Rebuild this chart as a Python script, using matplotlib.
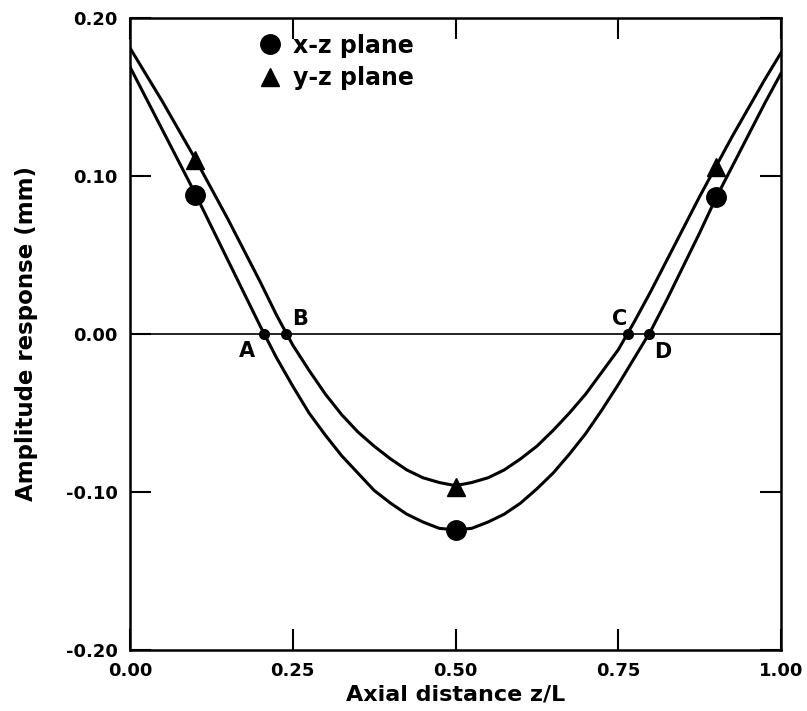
import matplotlib
matplotlib.use("Agg")
import matplotlib.pyplot as plt

plt.rcParams['font.family'] = 'DejaVu Sans'
plt.rcParams['font.weight'] = 'bold'

# Fitted mode shapes along the shaft (z/L, amplitude in mm)
z_fit = [0.000, 0.025, 0.050, 0.075, 0.100, 0.125, 0.150, 0.175, 0.200, 0.225,
         0.250, 0.275, 0.300, 0.325, 0.350, 0.375, 0.400, 0.425, 0.450, 0.475,
         0.500, 0.525, 0.550, 0.575, 0.600, 0.625, 0.650, 0.675, 0.700, 0.725,
         0.750, 0.775, 0.800, 0.825, 0.850, 0.875, 0.900, 0.925, 0.950, 0.975,
         1.000]
xz_fit = [0.169, 0.149, 0.129, 0.109, 0.089, 0.068, 0.047, 0.026, 0.005, -0.015,
          -0.033, -0.050, -0.064, -0.077, -0.088, -0.099, -0.107, -0.114, -0.119, -0.123,
          -0.124, -0.123, -0.119, -0.114, -0.107, -0.098, -0.088, -0.076, -0.063, -0.048,
          -0.032, -0.015, 0.002, 0.022, 0.043, 0.064, 0.086, 0.106, 0.126, 0.146,
          0.165]
yz_fit = [0.181, 0.164, 0.147, 0.129, 0.111, 0.092, 0.073, 0.053, 0.033, 0.012,
          -0.007, -0.023, -0.038, -0.051, -0.062, -0.071, -0.079, -0.086, -0.091, -0.094,
          -0.096, -0.094, -0.091, -0.086, -0.079, -0.071, -0.061, -0.050, -0.038, -0.024,
          -0.010, 0.008, 0.027, 0.047, 0.067, 0.087, 0.106, 0.125, 0.143, 0.161,
          0.178]

# Measured amplitudes
z_meas = [0.10, 0.50, 0.90]
xz_meas = [0.088, -0.124, 0.087]
yz_meas = [0.110, -0.097, 0.106]

# Nodal points
node_z = [0.206, 0.240, 0.765, 0.797]
node_labels = ['A', 'B', 'C', 'D']
node_offsets = [(-12, -12), (10, 11), (-6, 11), (10, -13)]

x_ticks = [0.00, 0.25, 0.50, 0.75, 1.00]
y_ticks = [-0.20, -0.10, 0.00, 0.10, 0.20]

fig = plt.figure(figsize=(8.07, 7.11), dpi=100)
ax = fig.add_axes([0.1611, 0.0858, 0.8067, 0.8889])

ax.axhline(0, color='black', lw=1.2, zorder=1)
ax.plot(z_fit, xz_fit, color='black', lw=2.2, zorder=2)
ax.plot(z_fit, yz_fit, color='black', lw=2.2, zorder=2)
ax.plot(z_meas, xz_meas, 'o', color='black', ms=14, ls='none', label='x-z plane', zorder=3)
ax.plot(z_meas, yz_meas, '^', color='black', ms=13, ls='none', label='y-z plane', zorder=3)

ax.plot(node_z, [0] * len(node_z), 'o', color='black', ms=7, zorder=4)
for zn, lab, off in zip(node_z, node_labels, node_offsets):
    ax.annotate(lab, (zn, 0), xytext=off, textcoords='offset points',
                ha='center', va='center', fontsize=15, fontweight='bold')

ax.set_xlim(0, 1)
ax.set_ylim(-0.2, 0.2)
ax.set_xticks(x_ticks)
ax.set_yticks(y_ticks)
ax.set_xticklabels(['%.2f' % v for v in x_ticks])
ax.set_yticklabels(['%.2f' % v for v in y_ticks])
ax.tick_params(direction='in', length=15, width=1.5, labelsize=13, pad=9,
               top=True, right=True)
for s in ax.spines.values():
    s.set_linewidth(1.8)

ax.set_xlabel('Axial distance z/L', fontsize=16, fontweight='bold', labelpad=3)
ax.set_ylabel('Amplitude response (mm)', fontsize=16.5, fontweight='bold', labelpad=20)

ax.legend(loc='upper left', bbox_to_anchor=(0.163, 1.009), frameon=False,
          handletextpad=0.4, labelspacing=0.35, handlelength=1.1,
          prop={'size': 17, 'weight': 'bold'})

fig.savefig('out.png', dpi=100)
